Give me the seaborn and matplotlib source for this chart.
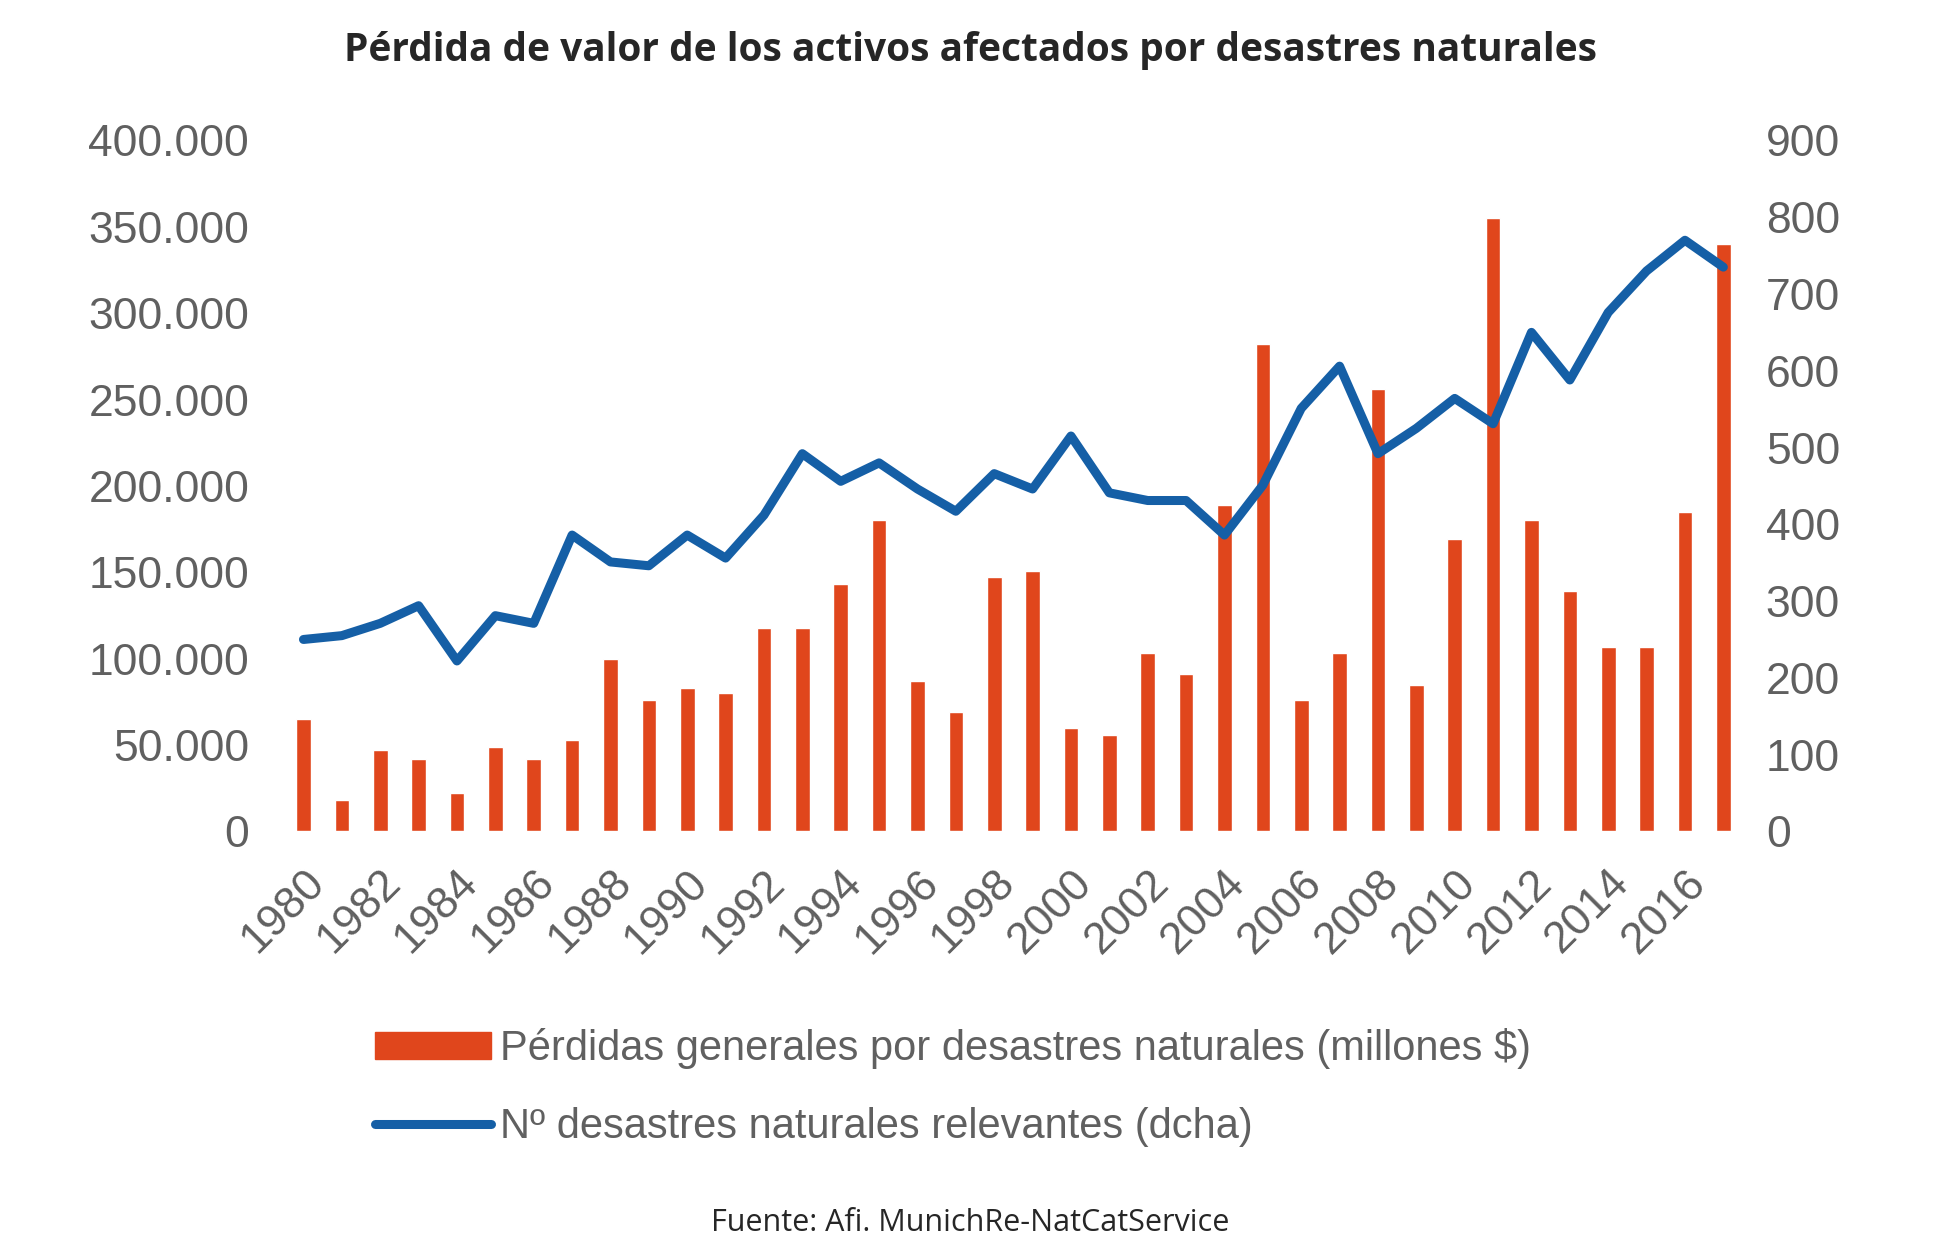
import numpy as np
import pandas as pd
import matplotlib
matplotlib.use("Agg")
import matplotlib.pyplot as plt
import matplotlib.ticker as mticker
from matplotlib.lines import Line2D
from matplotlib.patches import Patch
import seaborn as sns

years = list(range(1980, 2018))
losses = [65000, 18000, 47000, 42000, 22000, 49000, 42000, 53000, 100000, 76000,
          83000, 80000, 118000, 118000, 143000, 180000, 87000, 69000, 147000, 151000,
          60000, 56000, 103000, 91000, 189000, 282000, 76000, 103000, 256000, 85000,
          169000, 355000, 180000, 139000, 107000, 107000, 185000, 340000]
events = [250, 255, 271, 294, 222, 281, 271, 386, 351, 346,
          386, 356, 412, 492, 456, 480, 446, 417, 466, 446,
          515, 441, 431, 431, 386, 451, 551, 606, 492, 525,
          564, 531, 650, 588, 676, 730, 770, 735]

bar_color = "#E0461C"
line_color = "#155FA6"
grey = "#606060"

df = pd.DataFrame({"year": years, "loss": losses, "events": events})

sns.set_style("white")
plt.rcParams["font.family"] = ["Liberation Sans", "DejaVu Sans"]

fig = plt.figure(figsize=(19.6, 12.54), dpi=100)
ax = fig.add_axes([0.147, 0.337, 0.744, 0.551])
sns.barplot(data=df, x="year", y="loss", native_scale=True, width=0.38,
            color=bar_color, saturation=1, ax=ax)
ax2 = ax.twinx()
sns.lineplot(data=df, x="year", y="events", color=line_color, linewidth=6.5, ax=ax2)

ax.set_ylim(0, 400000)
ax2.set_ylim(0, 900)
ax.set_xlim(1979.6, 2017.6)
ax.yaxis.set_major_locator(mticker.MultipleLocator(50000))
ax.yaxis.set_major_formatter(mticker.FuncFormatter(lambda v, p: f"{int(v):,}".replace(",", ".")))
ax2.yaxis.set_major_locator(mticker.MultipleLocator(100))
ax.set_xticks(years[::2])
ax.set_xticklabels([str(y) for y in years[::2]], rotation=45, ha="right",
                   rotation_mode="anchor")
for a in (ax, ax2):
    a.set_xlabel("")
    a.set_ylabel("")
    for s in a.spines.values():
        s.set_visible(False)
    a.tick_params(length=0, labelsize=32, labelcolor=grey, pad=28)
ax2.tick_params(pad=14)
ax.tick_params(axis="x", pad=22)

fig.suptitle("Pérdida de valor de los activos afectados por desastres naturales",
             x=0.495, y=0.975, fontsize=28, fontweight="bold", family="Open Sans")

handles = [Patch(color=bar_color), Line2D([], [], color=line_color, linewidth=6.5)]
labels = ["Pérdidas generales por desastres naturales (millones $)",
          "Nº desastres naturales relevantes (dcha)"]
fig.legend(handles, labels, loc="upper left", bbox_to_anchor=(0.172, 0.21),
           frameon=False, fontsize=30, handlelength=2.8, handleheight=0.6,
           labelspacing=0.9, handletextpad=0.2, labelcolor=grey)

fig.text(0.495, 0.018, "Fuente: Afi. MunichRe-NatCatService", ha="center",
         fontsize=22, family="Open Sans")

fig.savefig("out.png", dpi=100)
